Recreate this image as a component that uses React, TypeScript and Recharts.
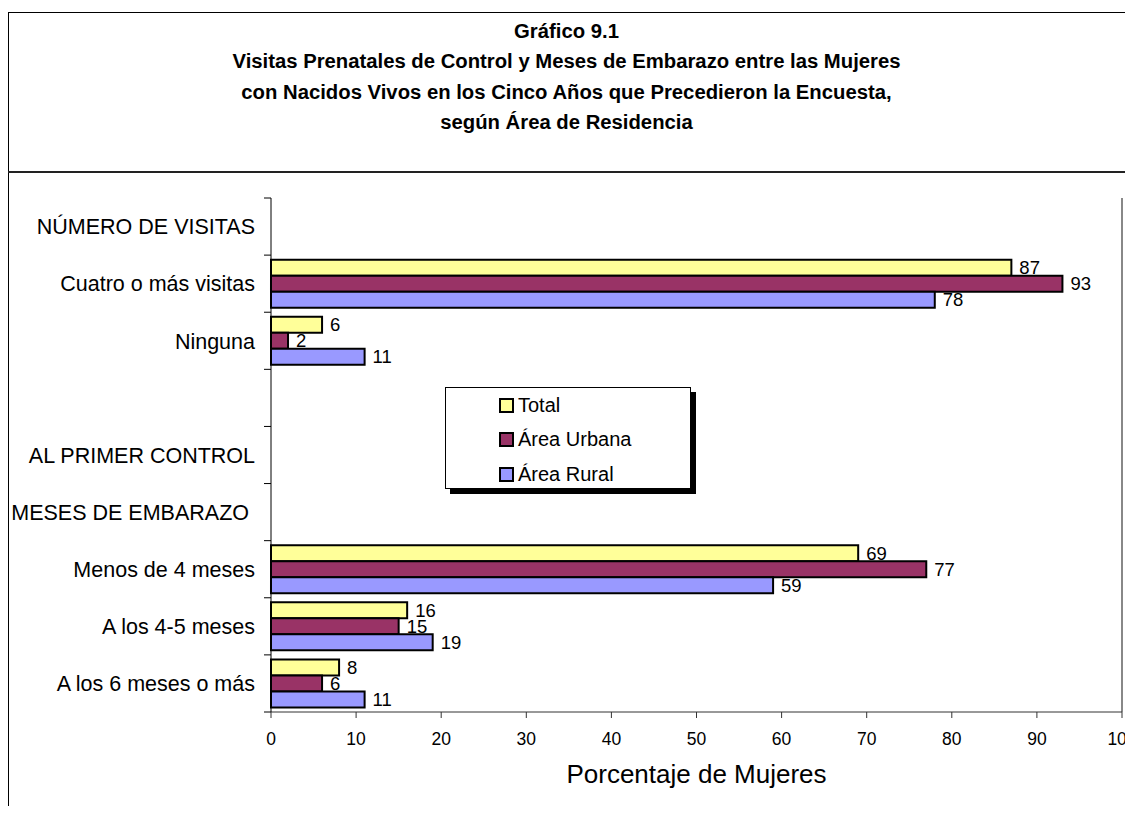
import { Bar, BarChart, LabelList, Legend, ReferenceLine, XAxis, YAxis } from "recharts"

const FONT = "'Liberation Sans', Arial, sans-serif"

const titleLines = [
  "Gráfico 9.1",
  "Visitas Prenatales de Control y Meses de Embarazo entre las Mujeres",
  "con Nacidos Vivos en los Cinco Años que Precedieron la Encuesta,",
  "según Área de Residencia",
]

const categories = [
  "NÚMERO DE VISITAS",
  "Cuatro o más visitas",
  "Ninguna",
  "",
  "AL PRIMER CONTROL",
  "MESES DE EMBARAZO\u00A0",
  "Menos de 4 meses",
  "A los 4-5 meses",
  "A los 6 meses o más",
]
const total = [null, 87, 6, null, null, null, 69, 16, 8]
const urbana = [null, 93, 2, null, null, null, 77, 15, 6]
const rural = [null, 78, 11, null, null, null, 59, 19, 11]
const xTicks = [0, 10, 20, 30, 40, 50, 60, 70, 80, 90, 100]

const series = [
  { key: "total", name: "Total", color: "#FFFF99" },
  { key: "urbana", name: "Área Urbana", color: "#993366" },
  { key: "rural", name: "Área Rural", color: "#9999FF" },
]

const data = categories.map((name, i) => ({
  name,
  total: total[i],
  urbana: urbana[i],
  rural: rural[i],
}))

function CategoryTick(props: any) {
  const { x, y, payload, index, visibleTicksCount } = props
  const half = payload?.offset ?? 0
  const isLast = index === visibleTicksCount - 1
  return (
    <g>
      <line x1={x - 7} x2={x} y1={y - half} y2={y - half} stroke="#000" strokeWidth={1} />
      {isLast && <line x1={x - 7} x2={x} y1={y + half} y2={y + half} stroke="#000" strokeWidth={1} />}
      <text x={x - 16} y={y} dy="0.36em" textAnchor="end" fontSize={21.5} fill="#000" fontFamily={FONT}>
        {payload.value}
      </text>
    </g>
  )
}

// legend drawn in the series order, not the alphabetical order recharts uses
function LegendBox() {
  return (
    <div
      style={{
        boxSizing: "border-box",
        width: 246,
        height: 102,
        border: "1px solid #000",
        boxShadow: "5px 5px 0 #000",
        background: "#fff",
        paddingLeft: 53,
        fontFamily: FONT,
      }}
    >
      {series.map((s) => (
        <div key={s.key} style={{ display: "flex", alignItems: "center", height: 34.5 }}>
          <span
            style={{
              display: "inline-block",
              boxSizing: "border-box",
              width: 15,
              height: 15,
              border: "2px solid #000",
              background: s.color,
              marginRight: 4,
            }}
          />
          <span style={{ fontSize: 20, color: "#000" }}>{s.name}</span>
        </div>
      ))}
    </div>
  )
}

export default function App() {
  return (
    <div style={{ position: "relative", margin: -8, width: 1133, height: 814, overflow: "hidden", background: "#fff", fontFamily: FONT }}>
      <div style={{ position: "absolute", left: 8, top: 12, width: 2000, height: 2000, borderLeft: "1.5px solid #000", borderTop: "1.5px solid #000" }} />
      <div style={{ position: "absolute", left: 8, top: 171, width: 2000, height: 2, background: "#222" }} />
      <div style={{ position: "absolute", left: 0, top: 16, width: 1133, textAlign: "center", fontWeight: "bold", fontSize: 20.3, lineHeight: "30.3px", color: "#000" }}>
        {titleLines.map((t) => (
          <div key={t}>{t}</div>
        ))}
      </div>
      <div style={{ position: "absolute", left: 0, top: 0 }}>
        <BarChart
          width={1133}
          height={814}
          data={data}
          layout="vertical"
          margin={{ top: 198, right: 11, left: 0, bottom: 0 }}
          barCategoryGap="8%"
          barGap={0}
        >
          <XAxis
            type="number"
            domain={[0, 100]}
            ticks={xTicks}
            interval={0}
            height={102}
            stroke="#333"
            tickSize={6}
            tickMargin={15}
            tick={{ fontSize: 17.5, fill: "#000", fontFamily: FONT }}
            label={{ value: "Porcentaje de Mujeres", position: "insideTop", offset: 53, fontSize: 26, fill: "#000", fontFamily: FONT }}
          />
          <XAxis xAxisId="top" orientation="top" type="number" domain={[0, 100]} height={0} tick={false} tickLine={false} stroke="#888" strokeWidth={2} />
          <YAxis
            type="category"
            dataKey="name"
            width={271}
            interval={0}
            tickLine={false}
            tickSize={0}
            tickMargin={0}
            stroke="#000"
            tick={<CategoryTick />}
          />
          <ReferenceLine x={100} stroke="#888" strokeWidth={2} />
          <Legend
            layout="vertical"
            align="center"
            verticalAlign="middle"
            wrapperStyle={{ left: 445, top: 387, width: 246, height: 102 }}
            content={<LegendBox />}
          />
          {series.map((s) => (
            <Bar key={s.key} dataKey={s.key} name={s.name} fill={s.color} stroke="#000" strokeWidth={2} isAnimationActive={false}>
              <LabelList dataKey={s.key} position="right" offset={8} fontSize={18.5} fill="#000" fontFamily={FONT} />
            </Bar>
          ))}
        </BarChart>
      </div>
    </div>
  )
}
